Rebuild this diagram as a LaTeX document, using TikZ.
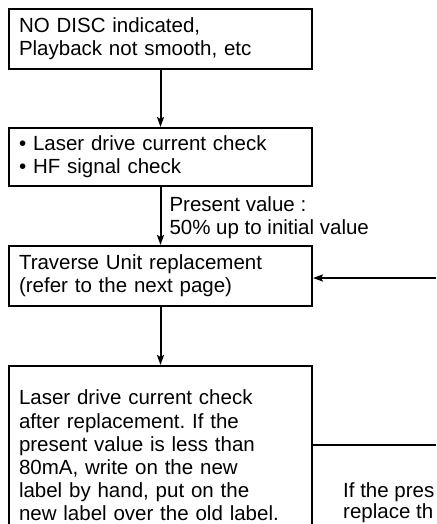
\documentclass[tikz,border=0pt]{standalone}
\usepackage{fontspec}
\setmainfont{Liberation Sans}
\usetikzlibrary{arrows.meta}
\begin{document}
\frenchspacing
\begin{tikzpicture}[x=1pt,y=-1pt,
  txt/.style={font=\fontsize{20.5}{23.2}\selectfont},
  box/.style={txt, draw, line width=2pt, anchor=north west, minimum width=303pt,
    text width=283pt, align=left, inner xsep=10pt, inner ysep=0pt},
  conn/.style={line width=2pt, -{Stealth[length=10pt,width=7pt,inset=2pt]}},
  plain/.style={line width=2pt},
  lbl/.style={txt, align=left, inner sep=0pt}]
\useasboundingbox (0,0) rectangle (436,524);
\clip (0,0) rectangle (436,524);
\node[box, minimum height=60pt] (b1) at (8,8) {NO DISC indicated,\\Playback not smooth, etc};
\node[box, minimum height=58pt] (b2) at (8,127) {\textbullet\ Laser drive current check\\\textbullet\ HF signal check};
\node[box, minimum height=60pt] (b3) at (8,245) {Traverse Unit replacement\\(refer to the next page)};
\node[box, minimum height=179pt] (b4) at (8,365) {Laser drive current check\\after replacement. If the\\present value is less than\\80mA, write on the new\\label by hand, put on the\\new label over the old label.};
\draw[conn] (b1) -- (b2);
\draw[conn] (b2) -- node[lbl, anchor=west, xshift=8pt, yshift=-2pt] (l1) {Present value :\\50\% up to initial value} (b3);
\draw[conn] (b3) -- (b4);
\coordinate (r1) at (436,278);
\draw[conn] (r1) -- (r1 -| b3.east);
\coordinate (r2) at (436,445);
\draw[plain] (r2 -| b4.east) -- (r2);
\node[lbl, anchor=north west, font=\fontsize{20.5}{21.5}\selectfont] (t1) at (343,482) {If the pres\\replace th};
\end{tikzpicture}
\end{document}
